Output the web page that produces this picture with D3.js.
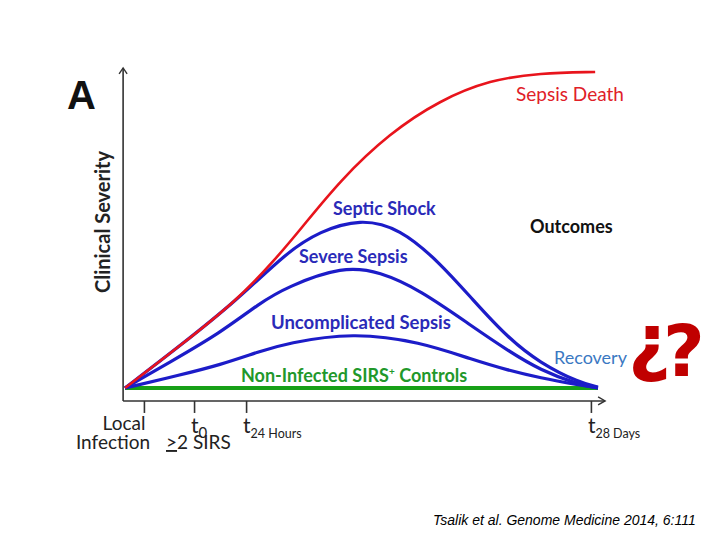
<!DOCTYPE html>
<html>
<head>
<meta charset="utf-8">
<script src="https://cdn.jsdelivr.net/npm/d3@7"></script>
<style>
body { margin: 0; background: #fff; }
</style>
</head>
<body>
<div class="container"></div>
<script>
const width = 720, height = 540;

// time runs 0..100 (local infection -> 28 days), severity 0..100
const deathX = [0, 11.6, 23.7, 31.3, 37.0, 45.5, 56.0, 66.6, 77.2, 87.7, 99.4];
const deathY = [0, 13.3, 27.8, 39.9, 50.0, 65.8, 80.7, 91.1, 97.5, 99.7, 100];

const shockX = [0, 11.6, 23.7, 34.2, 41.2, 49.7, 58.1, 66.6, 73.6, 80.8, 87.7, 96.2, 100];
const shockY = [0, 13.3, 27.8, 43.0, 49.6, 53.6, 50.6, 39.6, 27.8, 16.1, 7.9, 1.6, 0.3];

const severeX = [0, 9.5, 20.1, 28.5, 34.2, 46.1, 53.9, 62.4, 73.6, 80.8, 87.7, 96.2, 100];
const severeY = [0, 8.2, 17.4, 26.9, 32.0, 38.6, 36.8, 31.0, 19.3, 12.0, 5.7, 0.9, 0];

const uncompX = [0, 11.6, 20.1, 28.5, 34.2, 48.2, 62.4, 73.6, 80.8, 87.7, 96.2, 100];
const uncompY = [0, 4.1, 7.3, 11.6, 14.2, 17.6, 14.6, 8.9, 5.7, 3.2, 0.9, 0];

const controlX = [0, 100];
const controlY = [0, 0];

const tickPos = [4.0, 14.6, 25.6, 98.5];
const tickMain = ['', 't', 't', 't'];
const tickSub = ['', '0', '24 Hours', '28 Days'];

const sx = d3.scaleLinear().domain([0, 100]).range([125, 598]);
const sy = d3.scaleLinear().domain([0, 100]).range([388, 72]);

const sans = 'Lato, "Open Sans", sans-serif';
const arial = '"Liberation Sans", Arial, sans-serif';

const svg = d3.select('.container').append('svg')
	.attr('width', width)
	.attr('height', height)
	.attr('viewBox', [0, 0, width, height]);

const g = svg.append('g').style('font-family', sans);

// axes with arrow heads
const ax0 = sx(-0.4), ay0 = sy(-4.1);
const axEnd = sx(101.5), ayEnd = sy(101.3);
g.append('path')
	.attr('d', `M${ax0},${ay0}V${ayEnd}M${ax0},${ay0}H${axEnd}`)
	.attr('stroke', '#333').attr('stroke-width', 1.6).attr('fill', 'none');
g.append('path')
	.attr('d', `M${ax0 - 4},${ayEnd + 6}L${ax0},${ayEnd}L${ax0 + 4},${ayEnd + 6}`)
	.attr('stroke', '#333').attr('stroke-width', 1.4).attr('fill', 'none');
g.append('path')
	.attr('d', `M${axEnd - 7},${ay0 - 4}L${axEnd},${ay0}L${axEnd - 7},${ay0 + 4}`)
	.attr('stroke', '#333').attr('stroke-width', 1.4).attr('fill', 'none');

const xAxis = d3.axisBottom(sx).tickValues(tickPos).tickSize(12).tickFormat('');
const axisG = g.append('g')
	.attr('transform', `translate(0,${ay0})`)
	.call(xAxis);
axisG.select('.domain').remove();
axisG.selectAll('.tick line').attr('stroke', '#333').attr('stroke-width', 1.6);

// tick labels
tickPos.forEach((p, i) => {
	if (!tickMain[i]) return;
	const t = g.append('text')
		.attr('x', sx(p) - 3)
		.attr('y', ay0 + 32)
		.attr('font-size', 21)
		.attr('fill', '#222');
	t.append('tspan').text(tickMain[i]);
	t.append('tspan')
		.attr('dy', 5)
		.attr('font-size', i === 1 ? 15 : 12.5)
		.text(tickSub[i]);
});

g.append('text').attr('x', 124).attr('y', 430).attr('text-anchor', 'middle')
	.attr('font-size', 19).attr('fill', '#222').text('Local');
g.append('text').attr('x', 113).attr('y', 449).attr('text-anchor', 'middle')
	.attr('font-size', 19).attr('fill', '#222').text('Infection');
const sirs = g.append('text').attr('x', 166).attr('y', 449)
	.attr('font-size', 19).attr('fill', '#222');
sirs.append('tspan').style('text-decoration', 'underline').text('>');
sirs.append('tspan').text('2 SIRS');

// curves
const line = d3.line()
	.x(d => sx(d[0]))
	.y(d => sy(d[1]))
	.curve(d3.curveBasis);

const zip = (xs, ys) => xs.map((x, i) => [x, ys[i]]);

g.append('path').datum(zip(controlX, controlY))
	.attr('d', line).attr('fill', 'none')
	.attr('stroke', '#17a017').attr('stroke-width', 4);

[[uncompX, uncompY], [severeX, severeY], [shockX, shockY]].forEach(([xs, ys]) => {
	g.append('path').datum(zip(xs, ys))
		.attr('d', line).attr('fill', 'none')
		.attr('stroke', '#1c1cc8').attr('stroke-width', 3.2);
});

g.append('path').datum(zip(deathX, deathY))
	.attr('d', line).attr('fill', 'none')
	.attr('stroke', '#e8141c').attr('stroke-width', 2.6);

// labels
function label(x, y, s, color, size, weight) {
	return g.append('text')
		.attr('x', x).attr('y', y)
		.attr('font-size', size)
		.attr('font-weight', weight || 'bold')
		.attr('fill', color)
		.text(s);
}

label(516, 101, 'Sepsis  Death', '#e02028', 19, 'normal');
label(530, 233, 'Outcomes', '#111', 18);
label(333, 215, 'Septic Shock', '#2a2ab8', 18);
label(299, 263, 'Severe Sepsis', '#2a2ab8', 18);
label(271, 329, 'Uncomplicated Sepsis', '#2a2ab8', 18.5);
const ctrl = label(241, 382, 'Non-Infected SIRS', '#21982a', 18);
ctrl.append('tspan').attr('dy', -7).attr('font-size', 10).text('+');
ctrl.append('tspan').attr('dy', 7).text(' Controls');
label(554, 364, 'Recovery', '#3a78c2', 18, 'normal');

g.append('text')
	.attr('x', 67).attr('y', 109)
	.style('font-family', arial)
	.attr('font-size', 40).attr('font-weight', 'bold')
	.attr('fill', '#111').text('A');

g.append('text')
	.attr('transform', 'translate(110,222) rotate(-90)')
	.attr('text-anchor', 'middle')
	.attr('font-size', 20).attr('font-weight', 'bold')
	.attr('fill', '#222').text('Clinical Severity');

// question marks
const qFont = '"DejaVu Sans", sans-serif';
g.append('text').attr('x', 628).attr('y', 367)
	.style('font-family', qFont)
	.attr('font-size', 74).attr('font-weight', 'bold')
	.attr('fill', '#c00000').text('¿');
g.append('text').attr('x', 663).attr('y', 376)
	.style('font-family', qFont)
	.attr('font-size', 72).attr('font-weight', 'bold')
	.attr('fill', '#c00000').text('?');

g.append('text').attr('x', 433).attr('y', 525)
	.style('font-family', arial)
	.attr('font-size', 14).attr('font-style', 'italic')
	.attr('fill', '#000').text('Tsalik et al. Genome Medicine 2014, 6:111');
</script>
</body>
</html>
